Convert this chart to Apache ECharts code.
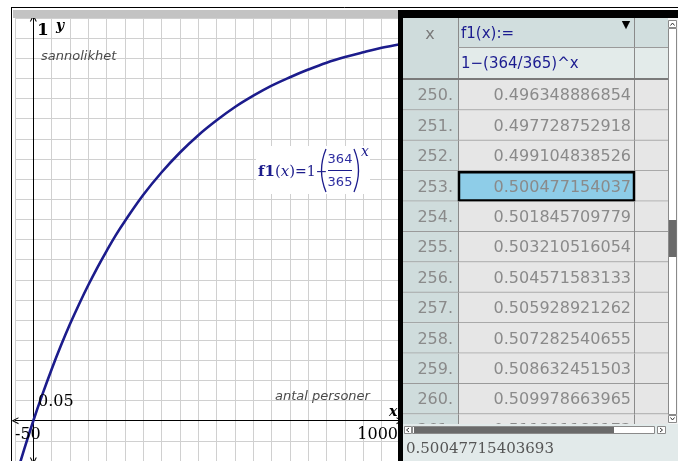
<!DOCTYPE html>
<html>
<head>
<meta charset="utf-8">
<script src="https://cdn.jsdelivr.net/npm/echarts@6/dist/echarts.min.js"></script>
<style>
  html, body { margin: 0; padding: 0; background: #fff; }
  #chart { width: 678px; height: 461px; }
</style>
</head>
<body>
<div id="chart"></div>
<script>
// Graph window and grid scale
const xWindow = [-50, 1000];
const yWindow = [-0.1, 1];
const xScale = 50;
const yScale = 0.05;

// Sampled points of f1(x) = 1 - (364/365)^x
const curveX = [-50, -25, 0, 25, 50, 75, 100, 125, 150, 175, 200, 225, 250, 300, 350, 400, 450, 500, 550, 600, 650, 700, 750, 800, 850, 900, 950, 1000];
const curveY = [-0.147, -0.071, 0, 0.066, 0.128, 0.186, 0.240, 0.290, 0.337, 0.381, 0.422, 0.461, 0.496, 0.561, 0.617, 0.666, 0.709, 0.746, 0.779, 0.807, 0.832, 0.853, 0.872, 0.889, 0.903, 0.915, 0.926, 0.935];

// Table of values
const tableX = [250, 251, 252, 253, 254, 255, 256, 257, 258, 259, 260, 261];
const tableY = ['0.496348886854', '0.497728752918', '0.499104838526', '0.500477154037',
                '0.501845709779', '0.503210516054', '0.504571583133', '0.505928921262',
                '0.507282540655', '0.508632451503', '0.509978663965', '0.511321188173'];
const selectedRow = 3;
const entryLine = '0.50047715403693';

const axisNames = { x: 'x', y: 'y', xTitle: 'antal personer', yTitle: 'sannolikhet' };

const BLUE = '#1c1c8c';
const TEAL = '#cfdcdc';
const TEAL_LIGHT = '#e2eaea';
const CELL = '#e6e6e6';
const serif = '"DejaVu Serif", "Liberation Serif", serif';
const sans = '"DejaVu Sans", "Noto Sans", sans-serif';

const colW = [55, 176, 34];
const chevron = 'path://M0,10 L5,0 L10,10 L8.4,10 L5,3.2 L1.6,10 Z';

const chart = echarts.init(document.getElementById('chart'), null, { renderer: 'canvas' });

function renderRow(params, api) {
  const i = api.value(1);
  const cs = params.coordSys;
  const yc = api.coord([0, i])[1];
  const h = api.size([0, 1])[1];
  const top = yc - h / 2;
  const x0 = cs.x;
  const xa = x0 + colW[0];
  const xb = xa + colW[1];
  const xc = xb + colW[2];
  const sel = i === selectedRow;
  const kids = [
    { type: 'rect', shape: { x: x0, y: top, width: colW[0], height: h }, style: { fill: TEAL } },
    { type: 'rect', shape: { x: xa, y: top, width: colW[1], height: h }, style: { fill: sel ? '#8ecde8' : CELL } },
    { type: 'rect', shape: { x: xb, y: top, width: colW[2], height: h }, style: { fill: CELL } },
    { type: 'line', shape: { x1: x0, y1: top + h - 0.5, x2: xc, y2: top + h - 0.5 }, style: { stroke: '#9a9a9a', lineWidth: 1 } },
    { type: 'line', shape: { x1: xa + 0.5, y1: top, x2: xa + 0.5, y2: top + h }, style: { stroke: '#8a8a8a', lineWidth: 1 } },
    { type: 'line', shape: { x1: xb + 0.5, y1: top, x2: xb + 0.5, y2: top + h }, style: { stroke: '#8a8a8a', lineWidth: 1 } },
    { type: 'text', style: { x: xa - 5, y: yc + 1, text: tableX[i] + '.', align: 'right', verticalAlign: 'middle', font: '16px ' + sans, fill: '#8a8a8a' } },
    { type: 'text', style: { x: xb - 3, y: yc + 1, text: tableY[i], align: 'right', verticalAlign: 'middle', font: '16px ' + sans, fill: '#8a8a8a' } }
  ];
  if (sel) {
    kids.push({ type: 'rect', shape: { x: xa + 1, y: top + 1, width: colW[1] - 1, height: h - 2 }, style: { fill: 'none', stroke: '#000', lineWidth: 2.5 } });
  }
  return { type: 'group', children: kids };
}

const graphic = [
  // frame of the page
  { type: 'line', z: 60, shape: { x1: 11, y1: 7.5, x2: 678, y2: 7.5 }, style: { stroke: '#000', lineWidth: 1 } },
  { type: 'line', z: 60, shape: { x1: 11.5, y1: 7, x2: 11.5, y2: 461 }, style: { stroke: '#000', lineWidth: 1 } },
  { type: 'rect', z: 60, shape: { x: 13, y: 10, width: 386, height: 8 }, style: { fill: '#c3c3c3' } },

  // axis end labels and titles
  { type: 'text', z: 40, style: { x: 37, y: 31, text: String(yWindow[1]), font: 'bold 17px ' + serif, fill: '#000', verticalAlign: 'middle' } },
  { type: 'text', z: 40, style: { x: 56, y: 26, text: axisNames.y, font: 'italic bold 14px ' + serif, fill: '#000', verticalAlign: 'middle' } },
  { type: 'text', z: 40, style: { x: 41, y: 57, text: axisNames.yTitle, font: 'italic 13px ' + sans, fill: '#4a4a4a', verticalAlign: 'middle' } },
  { type: 'text', z: 40, style: { x: 38, y: 402, text: String(yScale), font: '16px ' + serif, fill: '#000', verticalAlign: 'middle' } },
  { type: 'text', z: 40, style: { x: 275, y: 397, text: axisNames.xTitle, font: 'italic 13px ' + sans, fill: '#4a4a4a', verticalAlign: 'middle' } },
  { type: 'text', z: 40, style: { x: 389, y: 412, text: axisNames.x, font: 'italic bold 14px ' + serif, fill: '#000', verticalAlign: 'middle' } },
  { type: 'text', z: 40, style: { x: 15, y: 435, text: String(xWindow[0]), font: '16px ' + serif, fill: '#000', verticalAlign: 'middle' } },
  { type: 'text', z: 40, style: { x: 398, y: 435, text: String(xWindow[1]), font: '16px ' + serif, fill: '#000', align: 'right', verticalAlign: 'middle' } },

  // function label
  { type: 'rect', z: 40, shape: { x: 256, y: 146, width: 114, height: 48 }, style: { fill: '#fff' } },
  { type: 'text', z: 41, style: { x: 258, y: 172, text: '{b|f1}{p|(}{i|x}{p|)}{n|=1−}', verticalAlign: 'middle',
      rich: {
        b: { font: 'bold 15px ' + serif, fill: BLUE },
        p: { font: '15px ' + serif, fill: BLUE },
        i: { font: 'italic 15px ' + serif, fill: BLUE },
        n: { font: '14px ' + serif, fill: BLUE }
      } } },
  { type: 'bezierCurve', z: 41, shape: { x1: 326, y1: 149, x2: 326, y2: 192, cpx1: 317, cpy1: 170.5 }, style: { stroke: BLUE, lineWidth: 1.3, fill: 'none' } },
  { type: 'bezierCurve', z: 41, shape: { x1: 354, y1: 149, x2: 354, y2: 192, cpx1: 363, cpy1: 170.5 }, style: { stroke: BLUE, lineWidth: 1.3, fill: 'none' } },
  { type: 'text', z: 41, style: { x: 340, y: 160, text: '364', font: '13px ' + sans, fill: '#2e2ea0', align: 'center', verticalAlign: 'middle' } },
  { type: 'line', z: 41, shape: { x1: 328, y1: 170.5, x2: 352, y2: 170.5 }, style: { stroke: BLUE, lineWidth: 1 } },
  { type: 'text', z: 41, style: { x: 340, y: 183, text: '365', font: '13px ' + sans, fill: '#2e2ea0', align: 'center', verticalAlign: 'middle' } },
  { type: 'text', z: 41, style: { x: 361, y: 152, text: 'x', font: 'italic 14px ' + serif, fill: BLUE, verticalAlign: 'middle' } },

  // table panel border
  { type: 'rect', z: 70, shape: { x: 398, y: 10, width: 5, height: 451 }, style: { fill: '#000' } },
  { type: 'rect', z: 70, shape: { x: 398, y: 10, width: 280, height: 8 }, style: { fill: '#000' } },

  // table header
  { type: 'rect', z: 60, shape: { x: 403, y: 18, width: 55, height: 60 }, style: { fill: TEAL } },
  { type: 'rect', z: 60, shape: { x: 458, y: 18, width: 210, height: 30 }, style: { fill: '#d1dede' } },
  { type: 'rect', z: 60, shape: { x: 458, y: 48, width: 210, height: 30 }, style: { fill: '#e3ebea' } },
  { type: 'line', z: 61, shape: { x1: 458.5, y1: 18, x2: 458.5, y2: 78 }, style: { stroke: '#8a8a8a', lineWidth: 1 } },
  { type: 'line', z: 61, shape: { x1: 634.5, y1: 18, x2: 634.5, y2: 78 }, style: { stroke: '#8a8a8a', lineWidth: 1 } },
  { type: 'line', z: 61, shape: { x1: 458, y1: 47.5, x2: 668, y2: 47.5 }, style: { stroke: '#9a9a9a', lineWidth: 1 } },
  { type: 'rect', z: 61, shape: { x: 403, y: 78, width: 265, height: 2 }, style: { fill: '#7a7a7a' } },
  { type: 'text', z: 62, style: { x: 430, y: 35, text: 'x', font: '16px ' + sans, fill: '#7a7a7a', align: 'center', verticalAlign: 'middle' } },
  { type: 'text', z: 62, style: { x: 461, y: 34, text: 'f1(x):=', font: '15px ' + sans, fill: '#1c1c90', verticalAlign: 'middle' } },
  { type: 'text', z: 62, style: { x: 626, y: 25, text: '▼', font: '11px ' + sans, fill: '#000', align: 'center', verticalAlign: 'middle' } },
  { type: 'text', z: 62, style: { x: 461, y: 64, text: '1−(364/365)^x', font: '15px ' + sans, fill: '#1c1c90', verticalAlign: 'middle' } },

  // vertical scrollbar
  { type: 'rect', z: 60, shape: { x: 668, y: 18, width: 10, height: 412 }, style: { fill: '#f4f4f4' } },
  { type: 'rect', z: 61, shape: { x: 668.5, y: 20.5, width: 8, height: 7 }, style: { fill: '#fff', stroke: '#8a8a8a', lineWidth: 1 } },
  { type: 'polyline', z: 62, shape: { points: [[670.5, 25.5], [672.5, 23], [674.5, 25.5]] }, style: { stroke: '#333', lineWidth: 1, fill: 'none' } },
  { type: 'rect', z: 61, shape: { x: 668.5, y: 28.5, width: 8, height: 386 }, style: { fill: '#fff', stroke: '#8a8a8a', lineWidth: 1 } },
  { type: 'rect', z: 62, shape: { x: 669, y: 220, width: 7.5, height: 37 }, style: { fill: '#6a6a6a' } },
  { type: 'rect', z: 61, shape: { x: 668.5, y: 415.5, width: 8, height: 7 }, style: { fill: '#fff', stroke: '#8a8a8a', lineWidth: 1 } },
  { type: 'polyline', z: 62, shape: { points: [[670.5, 417.5], [672.5, 420], [674.5, 417.5]] }, style: { stroke: '#333', lineWidth: 1, fill: 'none' } },

  // horizontal scrollbar and entry line
  { type: 'rect', z: 60, shape: { x: 403, y: 424, width: 275, height: 37 }, style: { fill: TEAL_LIGHT } },
  { type: 'rect', z: 61, shape: { x: 404.5, y: 426.5, width: 7, height: 7 }, style: { fill: '#fff', stroke: '#8a8a8a', lineWidth: 1 } },
  { type: 'polyline', z: 62, shape: { points: [[409, 428], [406.5, 430], [409, 432]] }, style: { stroke: '#333', lineWidth: 1, fill: 'none' } },
  { type: 'rect', z: 61, shape: { x: 412.5, y: 426.5, width: 242, height: 7 }, style: { fill: '#fff', stroke: '#8a8a8a', lineWidth: 1 } },
  { type: 'rect', z: 62, shape: { x: 414, y: 427, width: 200, height: 6 }, style: { fill: '#6a6a6a' } },
  { type: 'rect', z: 61, shape: { x: 657.5, y: 426.5, width: 8, height: 7 }, style: { fill: '#fff', stroke: '#8a8a8a', lineWidth: 1 } },
  { type: 'polyline', z: 62, shape: { points: [[660, 428], [662.5, 430], [660, 432]] }, style: { stroke: '#333', lineWidth: 1, fill: 'none' } },
  { type: 'text', z: 62, style: { x: 406, y: 449, text: entryLine, font: '15px ' + serif, fill: '#555', verticalAlign: 'middle' } }
];

const option = {
  animation: false,
  backgroundColor: '#fff',
  grid: [
    { left: 15, top: 18, width: 385, height: 444 },
    { left: 403, top: 80, width: 265, height: 364.8 }
  ],
  xAxis: [
    {
      type: 'value', gridIndex: 0, min: xWindow[0], max: xWindow[1], interval: xScale,
      axisLine: { onZero: true, lineStyle: { color: '#000', width: 1 }, symbol: [chevron, chevron], symbolSize: [8, 7] },
      axisTick: { show: false }, axisLabel: { show: false },
      splitLine: { show: true, lineStyle: { color: '#d0d0d0', width: 1 } }
    },
    { type: 'value', gridIndex: 1, min: 0, max: 1, show: false }
  ],
  yAxis: [
    {
      type: 'value', gridIndex: 0, min: yWindow[0], max: yWindow[1], interval: yScale,
      axisLine: { onZero: true, lineStyle: { color: '#000', width: 1 }, symbol: [chevron, chevron], symbolSize: [8, 7] },
      axisTick: { show: false }, axisLabel: { show: false },
      splitLine: { show: true, lineStyle: { color: '#d0d0d0', width: 1 } }
    },
    { type: 'category', gridIndex: 1, inverse: true, data: tableX.map(String), show: false }
  ],
  series: [
    {
      type: 'line', xAxisIndex: 0, yAxisIndex: 0,
      data: curveX.map((x, i) => [x, curveY[i]]),
      smooth: 0.4, showSymbol: false, clip: true, silent: true, z: 3,
      lineStyle: { color: BLUE, width: 2.6 }
    },
    {
      type: 'custom', xAxisIndex: 1, yAxisIndex: 1,
      data: tableX.map((x, i) => [0, i]),
      renderItem: renderRow, clip: true, silent: true, z: 5
    }
  ],
  graphic: graphic
};

chart.setOption(option);
</script>
</body>
</html>
